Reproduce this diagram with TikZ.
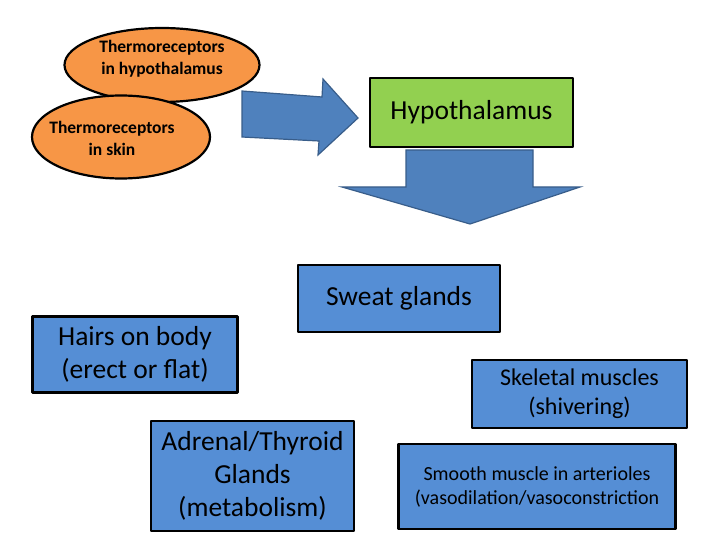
\documentclass[tikz,border=0pt]{standalone}
\usepackage{fontspec}
\setmainfont{Carlito}
\usetikzlibrary{shapes.geometric}
\definecolor{recorange}{HTML}{F79646}
\definecolor{hypgreen}{HTML}{92D050}
\definecolor{effblue}{HTML}{558ED5}
\definecolor{arrblue}{HTML}{4F81BD}
\definecolor{arredge}{HTML}{385D8A}
\begin{document}
\begin{tikzpicture}[x=1pt,y=-1pt,line join=bevel]
  \tikzstyle{recep}=[ellipse,draw=black,line width=2.2pt,fill=recorange,inner sep=0pt]
  \tikzstyle{receptext}=[align=center,font=\bfseries\fontsize{17.5}{22}\selectfont]
  \tikzstyle{box}=[rectangle,draw=black,line width=2.5pt,fill=effblue,align=center,font=\fontsize{27.5}{33}\selectfont]
  \tikzstyle{bigarrow}=[fill=arrblue,draw=arredge,line width=1.2pt,line join=miter]
  \useasboundingbox (0,0) rectangle (720,540);
  \node[recep,minimum width=195pt,minimum height=74pt] (R_1) at (162,65) {};
  \node[recep,minimum width=178pt,minimum height=83pt] (R_2) at (121,137) {};
  \node[receptext] (T_1) at (162,59) {Thermoreceptors\\in hypothalamus};
  \node[receptext] (T_2) at (112,138) {Thermoreceptors\\in skin};
  \draw[bigarrow] (242,91) -- (322,97) -- (323,79) -- (358,118) -- (318,155) -- (319,141) -- (242,137) -- cycle;
  \node[box,fill=hypgreen,minimum width=203pt,minimum height=69pt] (H) at (471.5,112.5) {Hypothalamus};
  \draw[bigarrow] (406,150) -- (533,150) -- (533,187) -- (580,187) -- (470,224) -- (342,187) -- (406,187) -- cycle;
  \node[box,minimum width=202pt,minimum height=67pt] (E_1) at (399,298.5) {Sweat glands};
  \node[box,minimum width=205pt,minimum height=76pt] (E_2) at (135,354.5) {Hairs on body\\(erect or flat)};
  \node[box,minimum width=215pt,minimum height=68pt,font=\fontsize{24}{29}\selectfont] (E_3) at (579.5,394) {Skeletal muscles\\(shivering)};
  \node[box,minimum width=203pt,minimum height=110pt] (E_4) at (252.5,476) {Adrenal/Thyroid\\Glands\\(metabolism)};
  \node[box,minimum width=277pt,minimum height=85pt,font=\fontsize{20}{24}\selectfont] (E_5) at (537,486.5) {Smooth muscle in arterioles\\(vasodilation/vasoconstriction};
\end{tikzpicture}
\end{document}
